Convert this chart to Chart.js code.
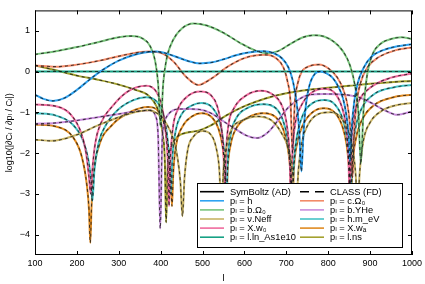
<!DOCTYPE html>
<html>
<head>
<meta charset="utf-8">
<script src="https://cdn.jsdelivr.net/npm/chart.js@4/dist/chart.umd.min.js"></script>
<style>
  html, body { margin: 0; padding: 0; background: #fff; }
  canvas { display: block; }
</style>
</head>
<body>
<canvas id="sensChart" width="425" height="284"></canvas>
<script>
/* -------------------------------------------------------
   Data
------------------------------------------------------- */
const xTicks = [100, 200, 300, 400, 500, 600, 700, 800, 900, 1000];
const yTicks = [-4, -3, -2, -1, 0, 1];

const paramNames  = ['h', 'b.Ω₀', 'ν.Neff', 'X.w₀', 'l.ln_As1e10', 'c.Ω₀', 'b.YHe', 'h.m_eV', 'X.wₐ', 'l.ns'];
const paramColors = ['#2ea3f2', '#79c57c', '#c9b466', '#ef6b9e', '#16a184', '#f28a68', '#c98ddd', '#45c4c6', '#e08b22', '#a3a12e'];

// h
const lH = [100,120,143,170,200,230,260,300,340,370,390,415,440,465,493,520,550,580,610,645,670,690,705,716,725,731,736,741,747,755,768,782,795,810,823,835,843,849,852,856,862,870,885,905,930,960,1000];
const vH = [-0.57,-0.67,-0.72,-0.65,-0.45,-0.2,0.03,0.27,0.42,0.48,0.49,0.44,0.35,0.26,0.2,0.22,0.3,0.4,0.47,0.5,0.45,0.32,0.1,-0.25,-0.8,-1.5,-2.45,-1.5,-0.8,-0.35,-0.06,0.0,-0.04,-0.15,-0.35,-0.65,-1.05,-1.6,-2.2,-1.4,-0.75,-0.3,0.1,0.38,0.52,0.61,0.67];

// b.Ω0
const lBO = [100,150,200,250,300,330,355,375,387,394,400,406,415,430,450,478,510,550,590,625,655,680,710,740,765,790,815,835,852,864,872,878,884,892,905,925,950,975,1000];
const vBO = [0.42,0.5,0.6,0.72,0.84,0.87,0.82,0.62,0.25,-0.3,-1.35,-0.3,0.35,0.78,1.05,1.18,1.13,0.95,0.7,0.52,0.45,0.5,0.68,0.84,0.89,0.86,0.72,0.5,0.15,-0.35,-1.0,-2.25,-1.0,-0.15,0.4,0.68,0.8,0.84,0.8];

// ν.Neff
const lNe = [100,140,200,250,300,340,370,395,415,430,440,447,452,457,465,478,500,520,532,540,545,550,558,570,595,630,665,688,705,715,722,729,738,752,775,805,830,848,860,866,870,875,884,900,930,965,1000];
const vNe = [-1.67,-1.7,-1.55,-1.32,-1.12,-0.99,-0.95,-1.05,-1.3,-1.65,-2.1,-2.7,-3.55,-2.6,-1.9,-1.6,-1.46,-1.55,-1.85,-2.4,-3.4,-2.4,-1.8,-1.4,-1.2,-1.1,-1.2,-1.5,-1.9,-2.5,-3.6,-2.4,-1.7,-1.3,-1.05,-1.0,-1.12,-1.45,-2.0,-2.6,-3.5,-2.5,-1.7,-1.25,-0.95,-0.82,-0.77];

// X.w0
const lW0 = [100,150,185,210,222,229,233,237,244,258,285,320,366,390,403,411,417,420,423,429,440,465,495,520,535,544,550,553,556,562,575,605,640,670,690,701,708,711,714,721,735,760,790,815,832,842,848,851,854,860,872,900,950,1000];
const vW0 = [-0.81,-0.85,-1.05,-1.5,-2.0,-2.6,-3.0,-2.4,-1.75,-1.25,-0.85,-0.5,-0.35,-0.5,-0.85,-1.4,-2.2,-3.3,-2.2,-1.4,-0.95,-0.6,-0.49,-0.58,-0.85,-1.3,-2.0,-3.0,-2.0,-1.3,-0.9,-0.58,-0.47,-0.58,-0.85,-1.3,-2.1,-3.2,-2.1,-1.3,-0.85,-0.52,-0.42,-0.52,-0.85,-1.3,-2.0,-3.0,-2.0,-1.2,-0.75,-0.4,-0.15,-0.05];

// l.ln_As1e10
const lAs = [100, 1000];
const vAs = [0, 0];

// c.Ω0
const lCO = [100,150,200,260,320,370,400,430,460,490,520,560,600,650,675,693,703,710,715,720,727,737,752,778,800,822,838,848,854,858,862,868,878,895,920,960,1000];
const vCO = [0.15,0.12,0.17,0.28,0.42,0.49,0.46,0.25,-0.12,-0.33,-0.18,0.12,0.33,0.41,0.33,0.1,-0.25,-0.75,-2.0,-0.8,-0.3,0.0,0.12,0.17,0.08,-0.15,-0.5,-0.95,-1.6,-2.6,-1.5,-0.75,-0.25,0.12,0.35,0.52,0.59];

// b.YHe
const lYH = [100,150,200,250,300,350,375,388,394,399,404,412,425,445,470,493,520,550,580,605,630,655,680,705,730,755,790,830,870,905,935,965,1000];
const vYH = [-1.28,-1.26,-1.2,-1.12,-1.04,-0.97,-0.95,-1.1,-1.6,-3.85,-1.6,-1.15,-0.98,-0.92,-0.92,-0.93,-1.02,-1.22,-1.42,-1.57,-1.63,-1.5,-1.2,-0.88,-0.68,-0.57,-0.55,-0.56,-0.62,-0.78,-0.95,-1.06,-0.98];

// h.m_eV
const lMe = [100,150,190,215,228,233,237,242,252,270,300,335,365,390,405,414,420,424,428,436,450,475,497,522,538,548,554,557,560,567,580,610,645,675,692,703,710,714,718,726,740,765,790,815,834,844,850,854,858,866,880,910,960,1000];
const vMe = [-1.02,-1.08,-1.3,-1.7,-2.2,-2.6,-3.17,-2.4,-1.75,-1.3,-0.92,-0.7,-0.63,-0.73,-1.0,-1.45,-2.1,-3.0,-2.1,-1.45,-1.05,-0.83,-0.77,-0.87,-1.15,-1.6,-2.3,-3.1,-2.2,-1.55,-1.15,-0.88,-0.8,-0.9,-1.2,-1.65,-2.3,-3.0,-2.2,-1.55,-1.05,-0.76,-0.7,-0.8,-1.15,-1.6,-2.2,-2.9,-2.0,-1.35,-0.9,-0.55,-0.38,-0.33];

// X.wa
const lWa = [100,150,190,212,224,229,232,235,240,252,285,330,370,395,410,419,424,427,430,437,452,475,497,522,538,548,554,557,560,567,580,610,645,675,692,703,710,714,718,726,740,765,790,815,834,844,850,854,858,866,880,910,960,1000];
const vWa = [-1.3,-1.35,-1.6,-2.1,-2.8,-3.4,-4.2,-3.3,-2.5,-1.85,-1.3,-0.98,-0.87,-0.98,-1.35,-1.95,-2.6,-3.3,-2.5,-1.8,-1.35,-1.1,-1.02,-1.12,-1.4,-1.85,-2.5,-3.3,-2.4,-1.8,-1.4,-1.12,-1.02,-1.12,-1.4,-1.85,-2.5,-3.5,-2.4,-1.75,-1.3,-0.98,-0.9,-1.0,-1.35,-1.8,-2.4,-3.2,-2.3,-1.65,-1.2,-0.82,-0.62,-0.57];

// l.ns
const lNs = [100,150,200,250,300,340,370,390,398,405,410,413,417,425,440,461,490,520,556,600,650,700,750,800,850,900,950,1000];
const vNs = [0.15,0.03,-0.1,-0.2,-0.32,-0.45,-0.58,-0.85,-1.1,-1.55,-2.2,-3.7,-2.3,-1.85,-1.6,-1.5,-1.45,-1.32,-1.08,-0.85,-0.66,-0.53,-0.45,-0.4,-0.35,-0.3,-0.26,-0.23];

const curvesL = [lH, lBO, lNe, lW0, lAs, lCO, lYH, lMe, lWa, lNs];
const curvesV = [vH, vBO, vNe, vW0, vAs, vCO, vYH, vMe, vWa, vNs];

/* -------------------------------------------------------
   Fonts / helpers
------------------------------------------------------- */
const FONT = "'Liberation Sans', 'DejaVu Sans', sans-serif";
Chart.defaults.font.family = FONT;
Chart.defaults.color = '#000';

const fmtMinus = v => (v < 0 ? '\u2212' + Math.abs(v) : String(v));
const toPoints = (ls, vs) => ls.map((l, i) => ({ x: l, y: vs[i] }));

/* -------------------------------------------------------
   Datasets: SymBoltz (solid colour) + CLASS (dashed black)
------------------------------------------------------- */
const datasets = [];
curvesL.forEach((ls, i) => {
  datasets.push({
    label: 'SymBoltz ' + paramNames[i],
    data: toPoints(ls, curvesV[i]),
    borderColor: paramColors[i],
    borderWidth: 2,
    pointRadius: 0,
    cubicInterpolationMode: 'monotone',
    order: 1,
  });
});
curvesL.forEach((ls, i) => {
  datasets.push({
    label: 'CLASS ' + paramNames[i],
    data: toPoints(ls, curvesV[i]),
    borderColor: 'rgba(20,20,20,0.75)',
    borderWidth: 1.1,
    borderDash: [3, 3],
    pointRadius: 0,
    cubicInterpolationMode: 'monotone',
    order: 0,
  });
});

/* -------------------------------------------------------
   Frame with inward ticks on all four sides
------------------------------------------------------- */
const framePlugin = {
  id: 'frame',
  afterDraw(chart) {
    const { ctx, chartArea: a, scales } = chart;
    ctx.save();
    ctx.strokeStyle = '#000';
    ctx.lineWidth = 1;
    ctx.strokeRect(a.left + 0.5, a.top + 0.5, a.right - a.left - 1, a.bottom - a.top - 1);
    const t = 4;
    ctx.beginPath();
    xTicks.forEach(v => {
      const px = Math.round(scales.x.getPixelForValue(v)) + 0.5;
      ctx.moveTo(px, a.bottom); ctx.lineTo(px, a.bottom - t);
      ctx.moveTo(px, a.top);    ctx.lineTo(px, a.top + t);
    });
    yTicks.forEach(v => {
      const py = Math.round(scales.y.getPixelForValue(v)) + 0.5;
      ctx.moveTo(a.left, py);  ctx.lineTo(a.left + t, py);
      ctx.moveTo(a.right, py); ctx.lineTo(a.right - t, py);
    });
    ctx.stroke();
    ctx.restore();
  }
};

/* -------------------------------------------------------
   Legend box inside the plot (lower right, two columns)
------------------------------------------------------- */
const legendPlugin = {
  id: 'boxLegend',
  afterDraw(chart) {
    const ctx = chart.ctx;
    const box = { x: 197, y: 183, w: 205, h: 64 };
    const rowH = 9.1, row0 = 191.7;
    const cols = [200, 300];
    ctx.save();
    ctx.fillStyle = '#fff';
    ctx.fillRect(box.x, box.y, box.w, box.h);
    ctx.strokeStyle = '#000';
    ctx.lineWidth = 1;
    ctx.strokeRect(box.x + 0.5, box.y + 0.5, box.w, box.h);
    ctx.font = '9.3px ' + FONT;
    ctx.textBaseline = 'middle';
    ctx.fillStyle = '#000';

    const entry = (col, row, text, color, dash) => {
      const x0 = cols[col], y = row0 + row * rowH;
      ctx.beginPath();
      ctx.setLineDash(dash || []);
      ctx.strokeStyle = color;
      ctx.lineWidth = 1.6;
      ctx.moveTo(x0, y); ctx.lineTo(x0 + 24, y);
      ctx.stroke();
      ctx.setLineDash([]);
      ctx.fillText(text, x0 + 30, y + 0.5);
    };
    entry(0, 0, 'SymBoltz (AD)', '#000');
    entry(1, 0, 'CLASS (FD)', '#000', [9, 6]);
    paramNames.forEach((name, i) => {
      entry(i < 5 ? 0 : 1, 1 + (i % 5), 'pₗ = ' + name, paramColors[i]);
    });
    ctx.restore();
  }
};

/* -------------------------------------------------------
   Chart
------------------------------------------------------- */
new Chart(document.getElementById('sensChart'), {
  type: 'line',
  data: { datasets },
  options: {
    responsive: false,
    animation: false,
    devicePixelRatio: 1,
    layout: { padding: { left: 0, top: 8, right: 12, bottom: 0 } },
    plugins: { legend: { display: false }, tooltip: { enabled: false } },
    scales: {
      x: {
        type: 'linear',
        min: 100, max: 1000,
        grid: { display: false, drawTicks: false },
        border: { display: false },
        afterBuildTicks: s => { s.ticks = xTicks.map(v => ({ value: v })); },
        ticks: { font: { size: 9 }, padding: 3, maxRotation: 0, callback: v => String(v) },
        title: { display: true, text: 'l', font: { size: 9.5 }, padding: { top: 0, bottom: 0 } },
        afterFit: s => { s.height = 29; }
      },
      y: {
        type: 'linear',
        min: -4.5, max: 1.5,
        grid: { display: false, drawTicks: false },
        border: { display: false },
        afterBuildTicks: s => { s.ticks = yTicks.map(v => ({ value: v })); },
        ticks: { font: { size: 9 }, padding: 5, callback: v => fmtMinus(v) },
        title: { display: true, text: 'log10(|∂Cₗ / ∂pₗ / Cₗ|)', font: { size: 9 }, padding: { top: 4, bottom: 0 } },
        afterFit: s => { s.width = 35; }
      }
    }
  },
  plugins: [framePlugin, legendPlugin]
});
</script>
</body>
</html>
